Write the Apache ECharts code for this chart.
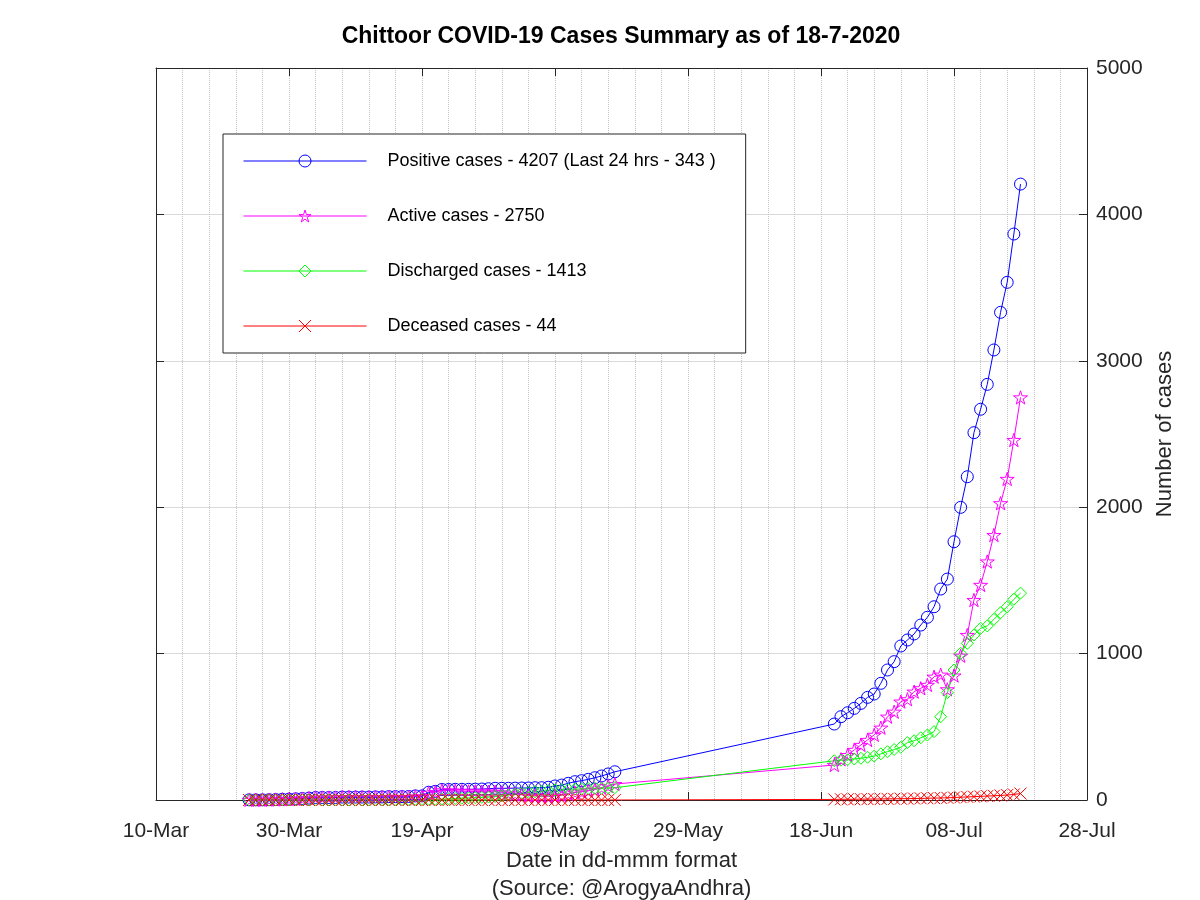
<!DOCTYPE html>
<html>
<head>
<meta charset="utf-8">
<script src="https://cdn.jsdelivr.net/npm/echarts@6/dist/echarts.min.js"></script>
<style>
html,body{margin:0;padding:0;background:#fff;}
#chart{width:1200px;height:900px;}
</style>
</head>
<body>
<div id="chart"></div>
<script>
// ---------------- data ----------------
const dates = [
 '2020-03-24','2020-03-25','2020-03-26','2020-03-27','2020-03-28','2020-03-29','2020-03-30','2020-03-31',
 '2020-04-01','2020-04-02','2020-04-03','2020-04-04','2020-04-05','2020-04-06','2020-04-07','2020-04-08','2020-04-09','2020-04-10',
 '2020-04-11','2020-04-12','2020-04-13','2020-04-14','2020-04-15','2020-04-16','2020-04-17','2020-04-18','2020-04-19','2020-04-20',
 '2020-04-21','2020-04-22','2020-04-23','2020-04-24','2020-04-25','2020-04-26','2020-04-27','2020-04-28','2020-04-29','2020-04-30',
 '2020-05-01','2020-05-02','2020-05-03','2020-05-04','2020-05-05','2020-05-06','2020-05-07','2020-05-08','2020-05-09','2020-05-10',
 '2020-05-11','2020-05-12','2020-05-13','2020-05-14','2020-05-15','2020-05-16','2020-05-17','2020-05-18',
 '2020-06-20','2020-06-21','2020-06-22','2020-06-23','2020-06-24','2020-06-25','2020-06-26','2020-06-27','2020-06-28','2020-06-29','2020-06-30',
 '2020-07-01','2020-07-02','2020-07-03','2020-07-04','2020-07-05','2020-07-06','2020-07-07','2020-07-08','2020-07-09','2020-07-10',
 '2020-07-11','2020-07-12','2020-07-13','2020-07-14','2020-07-15','2020-07-16','2020-07-17','2020-07-18'
];
const positive = [
 1,1,1,2,3,5,6,8,
 10,13,17,17,17,17,20,20,20,20,
 20,21,21,23,23,23,24,28,28,53,
 59,72,72,73,73,73,74,75,77,80,
 80,80,81,82,82,84,84,87,96,102,
 114,125,132,141,152,164,178,193,
 519,569,596,626,660,701,724,797,888,945,1052,
 1093,1134,1195,1248,1320,1441,1509,1764,1999,2208,
 2509,2669,2839,3074,3331,3536,3866,4207
];
const active = [
 1,1,1,2,3,5,6,8,
 10,13,17,17,17,17,20,20,20,20,
 19,20,20,21,21,20,21,24,24,48,
 54,66,64,63,61,59,58,57,57,56,
 52,46,41,36,30,28,24,23,28,32,
 42,51,56,63,72,84,96,109,
 239,278,307,342,376,410,445,494,569,603,672,
 688,740,763,786,842,856,756,850,985,1127,
 1366,1469,1629,1810,2027,2193,2459,2750
];
const discharged = [
 0,0,0,0,0,0,0,0,
 0,0,0,0,0,0,0,0,0,0,
 1,1,1,2,2,3,3,4,4,5,
 5,6,8,10,12,14,16,18,20,24,
 28,34,40,46,52,56,60,64,68,70,
 72,74,76,78,80,80,82,84,
 268,272,275,280,285,292,300,315,330,345,360,
 392,405,425,444,467,569,733,888,1002,1070,
 1127,1173,1189,1234,1279,1320,1371,1413
];
const deceased = [
 0,0,0,0,0,0,0,0,
 0,0,0,0,0,0,0,0,0,0,
 0,0,0,0,0,0,0,0,0,0,
 0,0,0,0,0,0,0,0,0,0,
 0,0,0,0,0,0,0,0,0,0,
 0,0,0,0,0,0,0,0,
 4,5,5,5,6,6,7,7,8,8,9,
 9,10,11,12,13,14,15,17,19,21,
 23,25,27,29,31,34,38,44
];
const xTickLabels = ['10-Mar','30-Mar','19-Apr','09-May','29-May','18-Jun','08-Jul','28-Jul'];
const seriesNames = [
 'Positive cases - 4207 (Last 24 hrs - 343 )',
 'Active cases - 2750',
 'Discharged cases - 1413',
 'Deceased cases - 44'
];
const titleText = 'Chittoor COVID-19 Cases Summary as of 18-7-2020';
const xName = 'Date in dd-mmm format\n(Source: @ArogyaAndhra)';
const yName = 'Number of cases';

// ---------------- helpers ----------------
const baseDay = Date.UTC(2020, 2, 10);
function dayOffset(s) {
  const p = s.split('-').map(Number);
  return Math.round((Date.UTC(p[0], p[1] - 1, p[2]) - baseDay) / 86400000);
}
const xs = dates.map(dayOffset);
function pairs(vals) { return vals.map((v, i) => [xs[i], v]); }

const FONT = 'Liberation Sans, Arial, Helvetica, sans-serif';
const AX = '#262626';
const COLORS = ['#0000ff', '#ff00ff', '#00ff00', '#ff0000'];
const starPath = 'path://M0,-10 L2.245,-3.09 L9.51,-3.09 L3.633,1.18 L5.88,8.09 L0,3.82 L-5.88,8.09 L-3.633,1.18 L-9.51,-3.09 L-2.245,-3.09 Z';
const crossPath = 'path://M0,0 L10,10 M10,0 L0,10';
const SYMBOLS = ['circle', starPath, 'diamond', crossPath];
const SIZES = [12, 14, 12, 12];

function mkSeries(i, vals) {
  return {
    name: seriesNames[i], type: 'line', data: pairs(vals),
    xAxisIndex: 0, yAxisIndex: 0,
    symbol: SYMBOLS[i], symbolSize: SIZES[i], symbolKeepAspect: true,
    showAllSymbol: true,
    lineStyle: { color: COLORS[i], width: 1 },
    itemStyle: { color: 'transparent', borderColor: COLORS[i], borderWidth: 1 },
    emphasis: { disabled: true },
    animation: false
  };
}

const chart = echarts.init(document.getElementById('chart'), null, { renderer: 'canvas' });
chart.setOption({
  backgroundColor: '#fff',
  animation: false,
  title: {
    text: titleText, left: 621, top: 25, textAlign: 'center', padding: 0,
    textStyle: { fontFamily: FONT, fontSize: 23, fontWeight: 'bold', color: '#000' }
  },
  legend: {
    orient: 'vertical', left: 223, top: 134,
    padding: [18, 30, 18, 20],
    itemWidth: 123, itemHeight: 15, itemGap: 37,
    backgroundColor: '#fff', borderColor: AX, borderWidth: 1,
    selectedMode: false,
    textStyle: { fontFamily: FONT, fontSize: 18, color: '#000', lineHeight: 18, padding: [0, 0, 0, 16] },
    data: seriesNames.map((n, i) => ({
      name: n,
      itemStyle: { color: 'transparent', borderColor: COLORS[i], borderWidth: 1 },
      lineStyle: { color: COLORS[i], width: 1 }
    }))
  },
  grid: { left: 156, right: 113, top: 68, bottom: 100, containLabel: false, outerBoundsMode: 'none' },
  xAxis: [{
    type: 'value', position: 'bottom', min: 0, max: 140, interval: 20,
    name: xName, nameLocation: 'middle', nameGap: 45,
    nameTextStyle: { fontFamily: FONT, fontSize: 22, color: AX, lineHeight: 28 },
    axisLine: { show: true, onZero: false, lineStyle: { color: AX, width: 1 } },
    axisTick: { show: true, inside: true, length: 8, lineStyle: { color: AX } },
    axisLabel: {
      show: true, margin: 21, fontFamily: FONT, fontSize: 21, color: AX,
      formatter: function (v) { return xTickLabels[Math.round(v / 20)] || ''; }
    },
    splitLine: { show: true, lineStyle: { color: '#c4c4c4', type: 'dotted', width: 1 } },
    minorTick: { show: false, splitNumber: 5 },
    minorSplitLine: { show: true, lineStyle: { color: '#c4c4c4', type: 'dotted', width: 1 } }
  }, {
    type: 'value', position: 'top', min: 0, max: 140, interval: 20,
    axisLine: { show: true, onZero: false, lineStyle: { color: AX, width: 1 } },
    axisTick: { show: true, inside: true, length: 8, lineStyle: { color: AX } },
    axisLabel: { show: false },
    splitLine: { show: false }
  }],
  yAxis: [{
    type: 'value', position: 'right', min: 0, max: 5000, interval: 1000,
    name: yName, nameLocation: 'middle', nameGap: 67, nameRotate: 90,
    nameTextStyle: { fontFamily: FONT, fontSize: 22, color: AX },
    axisLine: { show: true, onZero: false, lineStyle: { color: AX, width: 1 } },
    axisTick: { show: true, inside: true, length: 8, lineStyle: { color: AX } },
    axisLabel: { show: true, margin: 9, fontFamily: FONT, fontSize: 21, color: AX,
      formatter: function (v) { return String(v); } },
    splitLine: { show: true, lineStyle: { color: '#d9d9d9', type: 'solid', width: 1 } }
  }, {
    type: 'value', position: 'left', min: 0, max: 5000, interval: 1000,
    axisLine: { show: true, onZero: false, lineStyle: { color: AX, width: 1 } },
    axisTick: { show: true, inside: true, length: 8, lineStyle: { color: AX } },
    axisLabel: { show: false },
    splitLine: { show: false }
  }],
  series: [
    mkSeries(0, positive),
    mkSeries(1, active),
    mkSeries(2, discharged),
    mkSeries(3, deceased)
  ]
});
</script>
</body>
</html>
